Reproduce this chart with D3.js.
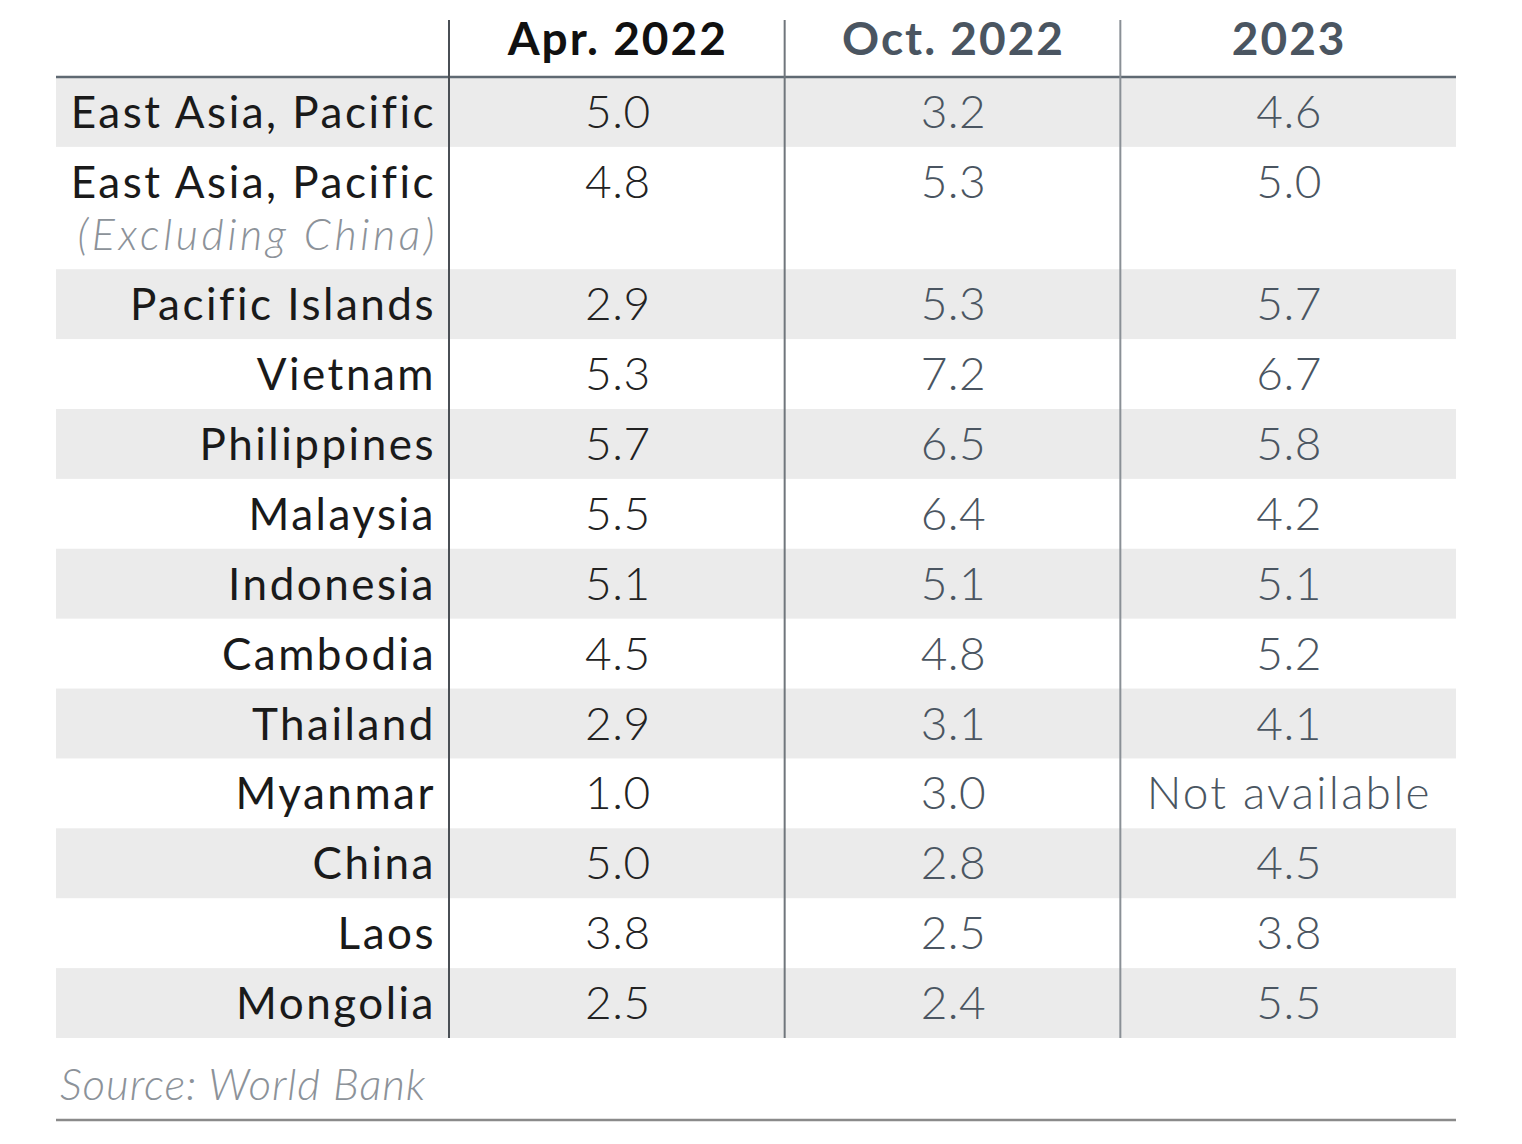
<!DOCTYPE html>
<html>
<head>
<meta charset="utf-8">
<script src="https://cdn.jsdelivr.net/npm/d3@7"></script>
<style>
  html, body { margin: 0; padding: 0; background: #ffffff; }
  svg { display: block; }
</style>
</head>
<body>
<svg id="chart" width="1522" height="1144"></svg>
<script>
// ---- data ----
const columns = ["Apr. 2022", "Oct. 2022", "2023"];
const regions = ["East Asia, Pacific", "East Asia, Pacific", "Pacific Islands", "Vietnam", "Philippines",
  "Malaysia", "Indonesia", "Cambodia", "Thailand", "Myanmar", "China", "Laos", "Mongolia"];
const regionNotes = ["", "(Excluding China)", "", "", "", "", "", "", "", "", "", "", ""];
const apr2022 = ["5.0", "4.8", "2.9", "5.3", "5.7", "5.5", "5.1", "4.5", "2.9", "1.0", "5.0", "3.8", "2.5"];
const oct2022 = ["3.2", "5.3", "5.3", "7.2", "6.5", "6.4", "5.1", "4.8", "3.1", "3.0", "2.8", "2.5", "2.4"];
const y2023   = ["4.6", "5.0", "5.7", "6.7", "5.8", "4.2", "5.1", "5.2", "4.1", "Not available", "4.5", "3.8", "5.5"];
const source = "Source: World Bank";

// ---- layout ----
const W = 1522, H = 1144;
const tableLeft = 56, tableRight = 1456, labelRight = 449;
const headerTop = 20, headerBottom = 77, bodyBottom = 1038;
const font = "Lato, 'Open Sans', sans-serif";

const svg = d3.select("#chart");

const series = [apr2022, oct2022, y2023];
const colX = d3.scaleBand().domain(columns).range([labelRight, tableRight]).padding(0);

const rowUnits = regions.map((d, i) => regionNotes[i] ? 1.75 : 1);
const cum = [0, ...d3.cumsum(rowUnits)];
const yScale = d3.scaleLinear().domain([0, cum[cum.length - 1]]).range([headerBottom, bodyBottom]);

const rows = regions.map((name, i) => ({
  name, note: regionNotes[i], i,
  y0: yScale(cum[i]), y1: yScale(cum[i + 1]),
  values: series.map(s => s[i])
}));

// row backgrounds
svg.append("g").selectAll("rect").data(rows.filter(r => r.i % 2 === 0)).join("rect")
  .attr("x", tableLeft).attr("width", tableRight - tableLeft)
  .attr("y", d => d.y0).attr("height", d => d.y1 - d.y0)
  .attr("fill", "#ebebeb");

// header line
svg.append("line")
  .attr("x1", tableLeft).attr("x2", tableRight)
  .attr("y1", headerBottom).attr("y2", headerBottom)
  .attr("stroke", "#5f6972").attr("stroke-width", 2.5);

// vertical separators
const sepColors = ["#4a4f55", "#70767c", "#8a9096"];
svg.append("g").selectAll("line").data(columns).join("line")
  .attr("x1", d => colX(d)).attr("x2", d => colX(d))
  .attr("y1", headerTop).attr("y2", bodyBottom)
  .attr("stroke", (d, i) => sepColors[i]).attr("stroke-width", 2);

// header labels
const headColors = ["#111111", "#4a5561", "#4a5561"];
svg.append("g").selectAll("text").data(columns).join("text")
  .attr("x", d => colX(d) + colX.bandwidth() / 2 + 1)
  .attr("y", 55)
  .attr("text-anchor", "middle")
  .attr("font-family", font).attr("font-weight", 700).attr("font-size", 46)
  .attr("letter-spacing", 2)
  .attr("fill", (d, i) => headColors[i])
  .text(d => d);

// row labels
const labG = svg.append("g");
labG.selectAll("text.name").data(rows).join("text").attr("class", "name")
  .attr("x", 436).attr("y", d => d.y0 + 51)
  .attr("text-anchor", "end")
  .attr("font-family", font).attr("font-size", 44)
  .attr("letter-spacing", 2.5)
  .attr("fill", "#1a1a1a")
  .text(d => d.name);
labG.selectAll("text.note").data(rows.filter(r => r.note)).join("text").attr("class", "note")
  .attr("x", 438).attr("y", d => d.y0 + 103)
  .attr("text-anchor", "end")
  .attr("font-family", font).attr("font-style", "italic").attr("font-weight", 300).attr("font-size", 43)
  .attr("letter-spacing", 3.6)
  .attr("fill", "#8c9299")
  .text(d => d.note);

// values
const valColors = ["#222222", "#4a5561", "#4a5561"];
const cells = rows.flatMap(r => r.values.map((v, j) => ({ v, j, r })));
svg.append("g").selectAll("text").data(cells).join("text")
  .attr("x", d => colX(columns[d.j]) + colX.bandwidth() / 2 + 1)
  .attr("y", d => d.r.y0 + 51)
  .attr("text-anchor", "middle")
  .attr("font-family", font).attr("font-weight", 300).attr("font-size", 46)
  .attr("letter-spacing", d => d.v.length > 4 ? 2.2 : 0.5)
  .attr("fill", d => valColors[d.j])
  .text(d => d.v);

// source
svg.append("text")
  .attr("x", 60).attr("y", 1100)
  .attr("font-family", font).attr("font-style", "italic").attr("font-weight", 300).attr("font-size", 44)
  .attr("letter-spacing", 0.9)
  .attr("fill", "#8c9299")
  .text(source);

// bottom line
svg.append("line")
  .attr("x1", tableLeft).attr("x2", tableRight)
  .attr("y1", 1120).attr("y2", 1120)
  .attr("stroke", "#8a8a8a").attr("stroke-width", 2.5);
</script>
</body>
</html>
